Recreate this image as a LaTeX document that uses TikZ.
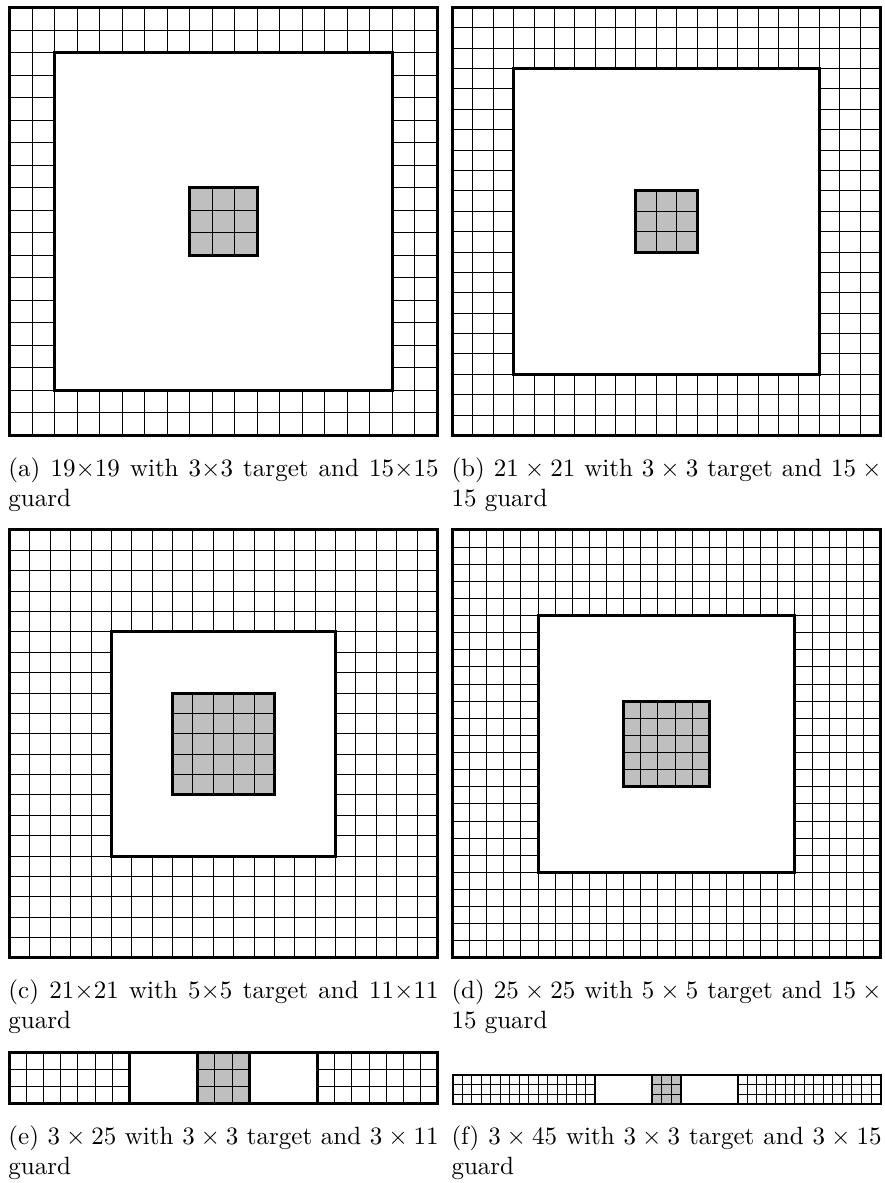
\documentclass[tikz,border=0pt]{standalone}
\begin{document}
\begin{tikzpicture}[x=0.4pt, y=0.4pt,
  subcap/.style={anchor=base west, inner sep=0pt, text width=172pt, align=justify},
  edge/.style={line width=1.2pt},
  thinedge/.style={line width=0.8pt},
  cell/.style={line width=0.4pt, step=1},
  tgt/.style={fill=black!25}]
\useasboundingbox (0,0) rectangle (884,1183);

% (a) 19x19
\begin{scope}[shift={(9.5,747.5)}, scale=22.526]
  \draw[cell](0,0) grid (19,19);
  \filldraw[fill=white, edge](2,2) rectangle (17,17);
  \fill[tgt](8,8) rectangle (11,11);
  \draw[cell](8,8) grid (11,11);
  \draw[edge](8,8) rectangle (11,11);
  \draw[edge](0,0) rectangle (19,19);
\end{scope}
\node[subcap] (capa) at (8,706.5) {(a) 19$\times$19 with 3$\times$3 target and 15$\times$15\linebreak guard};

% (b) 21x21
\begin{scope}[shift={(452.5,747.5)}, scale=20.381]
  \draw[cell](0,0) grid (21,21);
  \filldraw[fill=white, edge](3,3) rectangle (18,18);
  \fill[tgt](9,9) rectangle (12,12);
  \draw[cell](9,9) grid (12,12);
  \draw[edge](9,9) rectangle (12,12);
  \draw[edge](0,0) rectangle (21,21);
\end{scope}
\node[subcap] (capb) at (451,706.5) {(b) $21 \times 21$ with $3 \times 3$ target and $15 \times\linebreak 15$ guard};

% (c) 21x21
\begin{scope}[shift={(9.5,225)}, scale=20.381]
  \draw[cell](0,0) grid (21,21);
  \filldraw[fill=white, edge](5,5) rectangle (16,16);
  \fill[tgt](8,8) rectangle (13,13);
  \draw[cell](8,8) grid (13,13);
  \draw[edge](8,8) rectangle (13,13);
  \draw[edge](0,0) rectangle (21,21);
\end{scope}
\node[subcap] (capc) at (8,184) {(c) 21$\times$21 with 5$\times$5 target and 11$\times$11\linebreak guard};

% (d) 25x25
\begin{scope}[shift={(452.5,225)}, scale=17.12]
  \draw[cell](0,0) grid (25,25);
  \filldraw[fill=white, edge](5,5) rectangle (20,20);
  \fill[tgt](10,10) rectangle (15,15);
  \draw[cell](10,10) grid (15,15);
  \draw[edge](10,10) rectangle (15,15);
  \draw[edge](0,0) rectangle (25,25);
\end{scope}
\node[subcap] (capd) at (451,184) {(d) $25 \times 25$ with $5 \times 5$ target and $15 \times\linebreak 15$ guard};

% (e) 3x25
\begin{scope}[shift={(9.5,79)}, scale=17.12]
  \draw[cell](0,0) grid (25,3);
  \filldraw[fill=white, edge](7,0) rectangle (18,3);
  \fill[tgt](11,0) rectangle (14,3);
  \draw[cell](11,0) grid (14,3);
  \draw[edge](11,0) rectangle (14,3);
  \draw[edge](0,0) rectangle (25,3);
\end{scope}
\node[subcap] (cape) at (8,38) {(e) $3 \times 25$ with $3 \times 3$ target and $3 \times 11$\linebreak guard};

% (f) 3x45
\begin{scope}[shift={(452.5,79)}, scale=9.511]
  \draw[cell](0,0) grid (45,3);
  \filldraw[fill=white, thinedge](15,0) rectangle (30,3);
  \fill[tgt](21,0) rectangle (24,3);
  \draw[cell](21,0) grid (24,3);
  \draw[thinedge](21,0) rectangle (24,3);
  \draw[thinedge](0,0) rectangle (45,3);
\end{scope}
\node[subcap] (capf) at (451,38) {(f) $3 \times 45$ with $3 \times 3$ target and $3 \times 15$\linebreak guard};

\end{tikzpicture}
\end{document}
